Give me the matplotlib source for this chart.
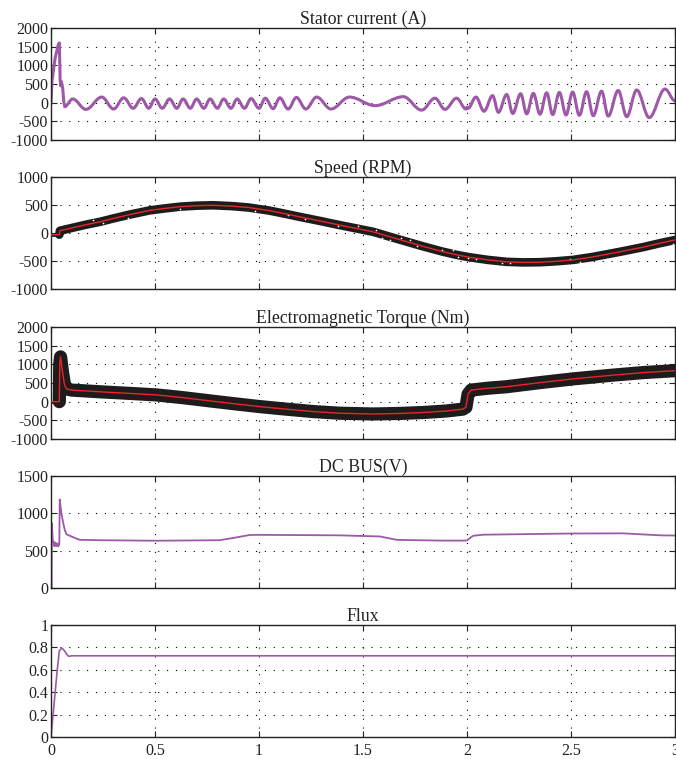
import matplotlib
matplotlib.use("Agg")
import matplotlib.pyplot as plt
from matplotlib.ticker import FormatStrFormatter
from matplotlib.path import Path
from matplotlib.patches import PathPatch

plt.rcParams['font.family'] = ['Liberation Serif', 'DejaVu Serif']
plt.rcParams['axes.unicode_minus'] = False

PURPLE = '#9e58a8'
BAND = '#1f1b1c'
RED = '#e8262a'

# ---- stator current (A) ----
# start-up transient, drawn as a polyline
t_is_start = [0, 0.005, 0.02, 0.035, 0.040, 0.044, 0.047, 0.050, 0.056, 0.062, 0.067]
i_is_start = [0, 600, 1200, 1550, 1600, 600, 450, 560, 400, 0, -100]
# steady oscillation: successive peaks / troughs
t_is_osc = [0.067, 0.104, 0.168, 0.244, 0.301, 0.35, 0.395, 0.435, 0.47, 0.50,
            0.535, 0.57, 0.605, 0.635, 0.67, 0.70, 0.735, 0.765, 0.80, 0.83,
            0.865, 0.895, 0.93, 0.962, 1.00, 1.03, 1.068, 1.10, 1.14, 1.18,
            1.225, 1.277, 1.346, 1.435, 1.558, 1.694, 1.782, 1.846, 1.894, 1.95,
            1.995, 2.0, 2.005, 2.043, 2.082, 2.123, 2.151, 2.191, 2.220, 2.258,
            2.287, 2.319, 2.351, 2.383, 2.412, 2.444, 2.476, 2.508, 2.540, 2.575,
            2.607, 2.647, 2.679, 2.727, 2.768, 2.816, 2.876, 2.952, 3.0]
i_is_osc = [-100, 100, -180, 150, -170, 130, -150, 110, -150, 100,
            -150, 100, -150, 100, -150, 100, -150, 100, -150, 100,
            -150, 100, -150, 110, -150, 120, -160, 130, -170, 140,
            -170, 150, -170, 150, -80, 160, -200, 120, -180, 120,
            -170, -120, -150, 150, -230, 190, -260, 220, -290, 240,
            -300, 250, -310, 265, -320, 275, -330, 285, -340, 295,
            -350, 310, -360, 325, -375, 340, -400, 365, 50]

# ---- speed (RPM) ----
t_spd = [0, 0.04, 0.043, 0.1, 0.17, 0.236, 0.3, 0.38, 0.476, 0.55, 0.62, 0.7,
         0.78, 0.87, 0.95, 1.05, 1.13, 1.2, 1.3, 1.389, 1.47, 1.55, 1.65, 1.72,
         1.79, 1.88, 1.95, 2.006, 2.1, 2.19, 2.27, 2.351, 2.43, 2.511, 2.6,
         2.68, 2.75, 2.85, 2.93, 3.0]
spd = [-30, -30, 40, 90, 150, 200, 260, 330, 405, 440, 470, 488,
       495, 480, 455, 400, 340, 285, 210, 140, 80, 20, -90, -165,
       -240, -330, -390, -430, -480, -515, -525, -522, -505, -480, -430,
       -375, -325, -250, -180, -125]
t_speck = [0.200, 0.252, 0.372, 0.620, 0.981, 1.141, 1.221, 1.381, 1.477, 1.562,
           1.590, 1.630, 1.683, 1.726, 1.758, 1.878, 1.931, 1.958, 2.006, 2.043,
           2.167, 2.207, 2.495, 2.543, 2.671, 2.99]
v_speck = [228, 180, 276, 420, 396, 318, 258, 126, 120, 48,
           -84, -120, -84, -132, -240, -312, -300, -420, -444, -468,
           -528, -540, -468, -522, -468, -204]

# ---- electromagnetic torque (Nm) ----
t_tq = [0, 0.040, 0.042, 0.046, 0.055, 0.065, 0.075, 0.1, 0.25, 0.4, 0.508,
        0.63, 0.75, 0.88, 1.0, 1.13, 1.26, 1.39, 1.55, 1.68, 1.79, 1.9, 1.98,
        1.995, 2.005, 2.02, 2.1, 2.19, 2.35, 2.51, 2.7, 2.85, 3.0]
tq = [0, 0, 1000, 1200, 800, 450, 340, 310, 260, 215, 180,
      110, 30, -55, -130, -200, -265, -310, -330, -315, -290, -250, -200,
      -150, 200, 310, 360, 400, 510, 610, 710, 780, 830]

# ---- DC bus (V) ----
t_dc = [0, 0.003, 0.004, 0.008, 0.012, 0.016, 0.02, 0.025, 0.03, 0.035, 0.04,
        0.042, 0.05, 0.058, 0.066, 0.074, 0.098, 0.138, 0.236, 0.505, 0.81,
        0.876, 0.956, 1.0, 1.389, 1.582, 1.662, 1.87, 1.998, 2.03, 2.08, 2.32,
        2.51, 2.75, 2.93, 3.0]
v_dc = [0, 0, 870, 650, 620, 560, 610, 560, 600, 555, 590,
        1185, 1000, 880, 780, 720, 690, 645, 640, 633, 640,
        670, 710, 712, 705, 690, 645, 635, 635, 700, 714, 723,
        730, 732, 705, 703]

# ---- flux ----
t_fx = [0, 0.01, 0.02, 0.03, 0.04, 0.047, 0.055, 0.065, 0.075, 0.085, 0.1, 3.0]
fx = [0, 0.2, 0.4, 0.6, 0.77, 0.785, 0.79, 0.77, 0.74, 0.72, 0.725, 0.725]

titles = ['Stator current (A)', 'Speed (RPM)', 'Electromagnetic Torque (Nm)',
          'DC BUS(V)', 'Flux']
ylims = [(-1000, 2000), (-1000, 1000), (-1000, 2000), (0, 1500), (0, 1)]
yticks = [[-1000, -500, 0, 500, 1000, 1500, 2000],
          [-1000, -500, 0, 500, 1000],
          [-1000, -500, 0, 500, 1000, 1500, 2000],
          [0, 500, 1000, 1500],
          [0, 0.2, 0.4, 0.6, 0.8, 1]]
xticks = [0, 0.5, 1, 1.5, 2, 2.5, 3]


def peak_path(t, v, k=0.36):
    """cubic segments with flat tangents at every peak/trough"""
    verts, codes = [(t[0], v[0])], [Path.MOVETO]
    for i in range(1, len(t)):
        dt = t[i] - t[i - 1]
        verts += [(t[i - 1] + k * dt, v[i - 1]), (t[i] - k * dt, v[i]), (t[i], v[i])]
        codes += [Path.CURVE4] * 3
    return Path(verts, codes)


W, H = 676, 759
tops = [28, 177, 327, 476, 625]
ax_h, x0, x1 = 112, 51, 675

fig = plt.figure(figsize=(W / 100, H / 100), dpi=100)
axes = []
for k, top in enumerate(tops):
    ax = fig.add_axes([x0 / W, 1 - (top + ax_h) / H, (x1 - x0) / W, ax_h / H])
    ax.set_xlim(0, 3)
    ax.set_ylim(*ylims[k])
    ax.set_xticks(xticks)
    ax.set_yticks(yticks[k])
    ax.xaxis.set_major_formatter(FormatStrFormatter('%g'))
    ax.yaxis.set_major_formatter(FormatStrFormatter('%g'))
    ax.tick_params(direction='in', top=True, right=True, length=4, width=0.8,
                   labelsize=11.5, pad=2, colors='#222222')
    ax.tick_params(axis='x', pad=4)
    if k < 4:
        ax.tick_params(labelbottom=False)
    ax.grid(True, color='black', lw=0.8, ls=(0, (1, 7)))
    ax.set_axisbelow(True)
    for s in ax.spines.values():
        s.set_linewidth(1.0)
        s.set_color('#222222')
    ax.set_title(titles[k], fontsize=12.8, pad=3, color='#222222')
    axes.append(ax)

# stator current
axes[0].plot(t_is_start, i_is_start, color=PURPLE, lw=2.2, solid_joinstyle='round')
axes[0].add_patch(PathPatch(peak_path(t_is_osc, i_is_osc), fill=False,
                            edgecolor=PURPLE, lw=2.2, joinstyle='round',
                            capstyle='round'))

# speed: thick measured band, reference on top
axes[1].plot(t_spd[:2], spd[:2], color=BAND, lw=2.0)
axes[1].plot(t_spd[1:], spd[1:], color=BAND, lw=6.2, solid_capstyle='round',
             solid_joinstyle='round')
axes[1].scatter(t_speck, v_speck, s=1.5, color='white', zorder=3, linewidths=0)
axes[1].plot(t_spd, spd, color=RED, lw=1.0, zorder=4)

# torque
axes[2].plot(t_tq[:2], tq[:2], color=BAND, lw=2.0)
axes[2].plot(t_tq[1:], tq[1:], color=BAND, lw=9.5, solid_capstyle='round',
             solid_joinstyle='round')
axes[2].plot(t_tq, tq, color=RED, lw=1.0, zorder=4)

# dc bus
axes[3].plot(t_dc, v_dc, color=PURPLE, lw=1.3)

# flux
axes[4].plot(t_fx, fx, color=PURPLE, lw=1.2)

fig.savefig('out.png', dpi=100)
